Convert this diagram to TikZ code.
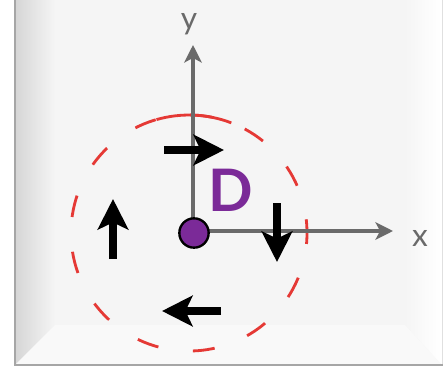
\documentclass[tikz,border=0pt]{standalone}
\usepackage{fontspec}
\setmainfont{Lato}
\usetikzlibrary{arrows.meta}
\definecolor{dpurple}{HTML}{7B2A98}
\definecolor{ringred}{HTML}{E53935}
\definecolor{axisgray}{HTML}{6A6A6A}
\definecolor{panel}{HTML}{F5F5F5}

\begin{document}
\begin{tikzpicture}[x=0.03cm,y=-0.03cm]
  % units: 1 = one pixel of the 443 x 367 frame, y runs down
  \useasboundingbox (0,0) rectangle (443,367);
  \tikzset{axis/.style={axisgray,line width=3pt,-{Stealth[length=15pt,width=15pt,inset=4pt]}},
           flow/.style={black,line width=7pt,-{Stealth[length=26pt,width=26pt,inset=6pt]}},
           axlabel/.style={text=axisgray,inner sep=0pt,font=\fontsize{27}{30}\selectfont},
           dot/.style={circle,draw=black,line width=2pt,fill=dpurple,minimum size=0.88cm,inner sep=0pt}}
  % frame with bevelled edges
  \fill[white] (0,0) rectangle (443,367);
  \fill[panel] (16,0) rectangle (441,364);
  \shade[left color=black!16,right color=panel] (16,0) -- (55,0) -- (55,325) -- (16,364) -- cycle;
  \shade[left color=panel,right color=white] (405,0) -- (441,0) -- (441,364) -- (405,325) -- cycle;
  \fill[white!45!panel] (16,364) -- (55,325) -- (405,325) -- (441,364) -- cycle;
  \draw[black!35,line width=1.2pt] (15,0) -- (15,365) -- (443,365);
  \draw[black!12] (442,0) -- (442,364);
  % dashed ring round the origin
  \draw[ringred,line width=2.4pt,dash pattern=on 18.7pt off 29.8pt,dash phase=9.35pt] (189,233) circle (118);
  \draw[ringred,line width=2.4pt] (156.5,119.6) arc[start angle=106,end angle=69,radius=3.54cm];
  % axes
  \coordinate (O) at (193,231);
  \coordinate (xend) at (393,231);
  \coordinate (yend) at (193,45);
  \draw[axis] (O) -- (xend);
  \draw[axis] (O) -- (yend);
  \node[axlabel] (xlab) at (420,238) {x};
  \node[axlabel] (ylab) at (189,24) {y};
  % circulation arrows, clockwise
  \coordinate (topA) at (164,150);  \coordinate (topB) at (224,150);
  \coordinate (rgtA) at (277,203);  \coordinate (rgtB) at (277,262);
  \coordinate (botA) at (221,311);  \coordinate (botB) at (162,311);
  \coordinate (lftA) at (113,259);  \coordinate (lftB) at (113,199);
  \draw[flow] (topA) -- (topB);
  \draw[flow] (rgtA) -- (rgtB);
  \draw[flow] (botA) -- (botB);
  \draw[flow] (lftA) -- (lftB);
  % dislocation
  \node[dot] (dot) at (194,233) {};
  \node[text=dpurple,inner sep=0pt,font=\fontsize{50}{54}\selectfont\bfseries] (Dlab) at (231,190) {D};
\end{tikzpicture}
\end{document}
